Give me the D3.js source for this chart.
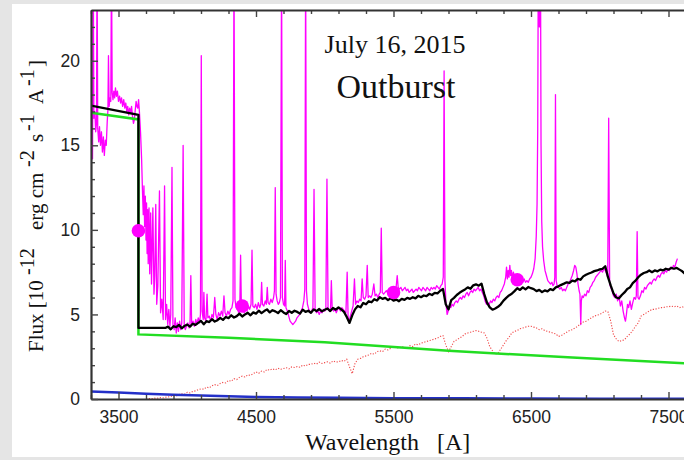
<!DOCTYPE html>
<html>
<head>
<meta charset="utf-8">
<script src="https://cdn.jsdelivr.net/npm/d3@7"></script>
<style>
  html, body { margin: 0; padding: 0; background: #e5e5e5; }
  svg { display: block; }
  .tick text { font-family: "Liberation Sans", Arial, sans-serif; font-size: 17.5px; fill: #222; }
</style>
</head>
<body>
<svg id="chart" width="684" height="460"></svg>
<script>
// ---- spectrum data (wavelength in A, flux in 1e-12 erg cm^-2 s^-1 A^-1) ----

// observed spectrum, [wavelength, flux]
const observed = [
  [3306, 17.0], [3311, 14.2], [3316, 26], [3321, 16.6], [3328, 17.0], [3334, 15.8], [3340, 16.3], [3344, 26],
  [3349, 16.0], [3356, 15.2], [3362, 16.1], [3369, 15.0], [3376, 15.8], [3383, 14.6], [3390, 15.5], [3397, 14.4],
  [3404, 15.3], [3411, 15.0], [3418, 16.4], [3423, 17.1], [3427, 20.3], [3432, 17.3], [3438, 17.8], [3444, 17.6],
  [3449, 26], [3454, 18.1], [3460, 17.7], [3466, 18.2], [3472, 17.8], [3478, 18.4], [3485, 17.9], [3492, 18.2],
  [3500, 17.6], [3508, 17.9], [3515, 17.5], [3522, 17.8], [3530, 17.3], [3538, 17.7], [3546, 17.2], [3553, 17.5],
  [3560, 17.0], [3567, 17.3], [3574, 16.8], [3581, 17.2], [3588, 16.9], [3595, 17.3], [3602, 16.7], [3609, 16.3],
  [3615, 16.5], [3622, 17.1], [3628, 17.6], [3634, 17.3], [3640, 17.2],
  [3646, 17.7], [3652, 17.0], [3660, 15.8], [3668, 14.2], [3674, 12.4], [3680, 10.9], [3685, 12.6], [3690, 10.2],
  [3695, 12.0], [3700, 9.4], [3704, 11.6], [3708, 8.6], [3712, 11.2], [3716, 8.0], [3722, 11.3], [3727, 7.4],
  [3734, 11.0], [3740, 6.8], [3750, 11.3], [3758, 6.2], [3764, 7.3], [3771, 11.5], [3778, 5.6], [3786, 6.7],
  [3798, 12.3], [3806, 5.1], [3815, 5.9], [3825, 4.7], [3835, 12.6], [3842, 4.7], [3850, 5.6], [3858, 4.4],
  [3866, 5.3], [3874, 4.3], [3880, 5.0], [3889, 13.7], [3896, 4.4], [3905, 4.1], [3912, 4.8], [3920, 3.9],
  [3928, 4.5], [3936, 4.0], [3944, 4.6], [3952, 4.1], [3960, 4.5], [3970, 15.0], [3978, 4.3], [3986, 4.1],
  [3994, 4.3], [4004, 4.5], [4014, 4.2], [4020, 4.4], [4026, 7.3], [4032, 4.4], [4042, 4.6], [4052, 4.3],
  [4062, 4.7], [4070, 4.4], [4080, 4.8], [4090, 4.5], [4096, 5.0], [4102, 20.3], [4108, 5.2], [4116, 4.7],
  [4121, 6.3], [4126, 4.8], [4136, 4.6], [4144, 6.2], [4150, 4.8], [4160, 4.9], [4170, 4.6], [4180, 5.0],
  [4190, 4.8], [4200, 6.0], [4208, 5.0], [4218, 4.7], [4228, 5.1], [4238, 4.9], [4248, 5.2], [4258, 4.9],
  [4267, 6.1], [4275, 5.1], [4285, 4.9], [4295, 5.2], [4305, 5.0], [4315, 5.3], [4325, 5.4], [4333, 5.8],
  [4340, 26], [4347, 5.9], [4355, 5.4], [4365, 5.3], [4375, 5.1], [4382, 5.3], [4388, 8.5], [4394, 5.2],
  [4404, 5.3], [4414, 5.1], [4424, 5.4], [4434, 5.2], [4444, 5.5], [4454, 5.3], [4464, 5.6], [4471, 8.8],
  [4477, 5.5], [4487, 5.4], [4497, 5.6], [4507, 5.3], [4517, 5.7], [4527, 5.4], [4535, 5.6], [4541, 6.9],
  [4547, 5.6], [4557, 5.5], [4567, 5.8], [4575, 5.6], [4582, 6.6], [4588, 5.7], [4598, 5.6], [4608, 5.9],
  [4618, 5.7], [4628, 6.0], [4634, 6.4], [4640, 12.5], [4646, 6.2], [4654, 5.8], [4662, 5.6], [4670, 5.7],
  [4678, 6.0], [4686, 26], [4692, 6.0], [4700, 5.6], [4708, 5.5], [4713, 8.2], [4718, 5.4], [4728, 5.2],
  [4738, 4.9], [4748, 4.6], [4758, 4.5], [4768, 4.4], [4778, 4.5], [4788, 4.6], [4798, 4.8], [4808, 4.9],
  [4818, 5.0], [4828, 5.2], [4838, 5.4], [4848, 5.8], [4855, 6.5], [4861, 26], [4867, 6.4], [4874, 5.6],
  [4884, 5.3], [4894, 5.1], [4904, 5.2], [4914, 5.4], [4922, 12.4], [4930, 5.3], [4940, 5.1], [4950, 5.2],
  [4960, 5.0], [4970, 5.2], [4980, 5.1], [4990, 5.3], [5000, 5.2], [5008, 5.3], [5016, 13.0], [5024, 5.4],
  [5034, 5.2], [5042, 5.3], [5048, 7.0], [5054, 5.4], [5064, 5.2], [5074, 5.3], [5084, 5.1], [5094, 5.3],
  [5104, 5.4], [5114, 5.2], [5124, 5.4], [5134, 5.3], [5144, 5.2], [5154, 5.1], [5163, 7.5], [5170, 4.8],
  [5178, 4.6], [5186, 4.9], [5196, 5.2], [5206, 5.5], [5216, 7.1], [5224, 5.6], [5234, 5.8], [5244, 5.7],
  [5254, 5.9], [5264, 5.8], [5272, 7.1], [5280, 6.0], [5290, 5.9], [5300, 6.1], [5309, 7.9], [5316, 6.0],
  [5326, 6.1], [5336, 6.0], [5346, 6.2], [5357, 6.8], [5366, 6.1], [5376, 6.2], [5386, 6.0], [5396, 6.2],
  [5404, 6.3], [5411, 10.1], [5418, 6.3], [5428, 6.2], [5438, 6.3], [5448, 6.4], [5458, 6.3], [5468, 6.5],
  [5478, 6.4], [5488, 6.4], [5498, 6.5], [5508, 6.4], [5518, 6.5], [5527, 7.3], [5534, 6.6], [5544, 6.5],
  [5554, 6.6], [5564, 6.4], [5574, 6.5], [5584, 6.6], [5594, 6.4], [5604, 6.5], [5614, 6.3], [5624, 6.4],
  [5634, 6.5], [5644, 6.3], [5654, 6.4], [5664, 6.5], [5674, 6.4], [5684, 6.6], [5694, 6.5], [5704, 6.4],
  [5714, 6.6], [5724, 6.5], [5734, 6.4], [5744, 6.6], [5754, 6.5], [5764, 6.4], [5774, 6.6], [5784, 6.5],
  [5794, 6.6], [5804, 6.5], [5814, 6.7], [5824, 6.6], [5834, 6.5], [5844, 6.7], [5854, 6.8], [5862, 7.2],
  [5868, 19.4], [5874, 7.0], [5882, 5.6], [5890, 5.0], [5898, 5.2], [5906, 5.5], [5916, 5.4], [5926, 5.6],
  [5936, 5.5], [5946, 5.7], [5956, 5.8], [5966, 5.7], [5976, 5.9], [5986, 6.0], [5996, 5.9], [6006, 6.1],
  [6016, 6.0], [6026, 6.2], [6036, 6.3], [6046, 6.1], [6056, 6.3], [6066, 6.4], [6076, 6.3], [6086, 6.5],
  [6096, 6.4], [6106, 6.5], [6116, 6.6], [6126, 6.4], [6136, 6.5], [6146, 6.3], [6156, 6.1], [6166, 5.8],
  [6176, 5.6], [6186, 5.7], [6196, 5.6], [6206, 5.8], [6216, 5.7], [6226, 5.9], [6236, 5.8], [6246, 6.0],
  [6256, 6.1], [6266, 6.0], [6276, 6.3], [6286, 6.4], [6296, 6.6], [6306, 6.8], [6316, 7.2], [6322, 7.8],
  [6328, 7.1], [6334, 7.6], [6340, 7.2], [6346, 7.9], [6352, 7.3], [6358, 7.6], [6364, 7.1], [6372, 7.5],
  [6380, 7.2], [6390, 7.3], [6400, 7.1], [6410, 7.3], [6420, 7.0], [6430, 7.2], [6440, 6.9], [6450, 7.1],
  [6460, 6.9], [6470, 7.0], [6480, 6.9], [6490, 7.1], [6500, 7.2], [6510, 7.4], [6520, 7.7], [6530, 8.3],
  [6538, 9.6], [6544, 11.5], [6549, 16], [6553, 26], [6557, 26], [6561, 22], [6565, 26], [6569, 26],
  [6573, 15], [6578, 10.5], [6584, 9.0], [6592, 8.2], [6602, 7.6], [6612, 7.3], [6622, 7.0], [6632, 6.9],
  [6642, 6.8], [6652, 6.9], [6660, 6.7], [6668, 6.8], [6673, 7.2], [6678, 18.0], [6683, 7.0], [6690, 6.7],
  [6700, 6.6], [6710, 6.5], [6720, 6.6], [6730, 6.4], [6740, 6.5], [6750, 6.4], [6760, 6.6], [6770, 6.8],
  [6780, 6.9], [6790, 7.1], [6800, 7.3], [6810, 7.6], [6818, 7.9], [6826, 7.8], [6834, 7.4], [6842, 6.8],
  [6850, 6.4], [6856, 6.2], [6862, 4.4], [6866, 5.8], [6872, 6.1], [6880, 6.0], [6890, 6.2], [6900, 6.1],
  [6910, 6.4], [6920, 6.3], [6930, 6.6], [6940, 6.7], [6950, 6.9], [6960, 7.0], [6970, 7.2], [6980, 7.3],
  [6990, 7.4], [7000, 7.5], [7010, 7.6], [7020, 7.5], [7030, 7.7], [7040, 7.6], [7050, 7.4], [7058, 7.2],
  [7065, 16.6], [7072, 6.8], [7080, 6.6], [7090, 6.4], [7100, 6.1], [7110, 6.0], [7120, 6.2], [7130, 5.8],
  [7140, 6.1], [7150, 5.5], [7160, 5.8], [7170, 5.2], [7180, 4.8], [7187, 4.6], [7194, 5.0], [7202, 5.6],
  [7210, 5.4], [7220, 5.8], [7230, 5.3], [7240, 5.7], [7250, 6.0], [7260, 5.9], [7266, 6.1], [7272, 9.9],
  [7278, 6.0], [7286, 5.9], [7296, 6.1], [7306, 6.4], [7316, 6.3], [7326, 6.6], [7336, 6.5], [7346, 6.7],
  [7356, 6.8], [7366, 6.9], [7376, 6.8], [7386, 7.0], [7396, 7.1], [7406, 7.0], [7416, 7.2], [7426, 7.3],
  [7436, 7.2], [7446, 7.4], [7456, 7.5], [7466, 7.4], [7476, 7.6], [7486, 7.5], [7496, 7.7], [7506, 7.6],
  [7516, 7.8], [7526, 7.7], [7536, 7.9], [7546, 7.8], [7556, 8.1], [7565, 8.3]
];

// photometric points
const photometry = [[3645, 9.95], [4400, 5.5], [5500, 6.3], [6400, 7.05]];

// total model: Balmer-jump part, then the sampled part (20 A grid from 3840 A)
const modelSumEdge = [[3300, 17.35], [3645, 16.8], [3645, 4.2]];
const modelSumStart = 3840;
const modelSumStep = 20;
const modelSum = [
  4.2, 4.28, 4.12, 4.3, 4.25, 4.38, 4.18, 4.32, 4.4, 4.28,
  4.45, 4.38, 4.5, 4.62, 4.42, 4.6, 4.55, 4.72, 4.58, 4.66,
  4.8, 4.68, 4.85, 4.78, 4.95, 4.82, 4.9, 5.05, 4.88, 5.0,
  5.1, 4.95, 5.12, 5.05, 5.22, 5.08, 5.2, 5.3, 5.12, 5.25,
  5.18, 5.08, 5.25, 5.12, 5.02, 5.2, 5.1, 5.22, 5.15, 5.05,
  5.28, 5.15, 5.22, 5.1, 5.3, 5.2, 5.32, 5.18, 5.28, 5.35,
  5.2, 5.38, 5.28, 5.42, 5.3, 5.15, 4.85, 4.5, 4.95, 5.3,
  5.5, 5.42, 5.68, 5.6, 5.78, 5.72, 5.9, 5.82, 6.02, 5.92,
  5.98, 5.85, 5.95, 5.82, 5.88, 5.78, 5.92, 5.86, 5.98, 5.92,
  6.02, 5.95, 6.1, 6.02, 6.12, 6.08, 6.22, 6.15, 6.28, 6.25,
  6.4, 6.5, 5.6, 5.3, 5.85, 5.98, 6.15, 6.28, 6.38, 6.48,
  6.6, 6.52, 6.72, 6.78, 6.7, 6.82, 6.2, 5.7, 5.42, 5.28,
  5.35, 5.45, 5.6, 5.82, 5.98, 6.12, 6.22, 6.38, 6.55, 6.45,
  6.6, 6.48, 6.62, 6.55, 6.5, 6.38, 6.45, 6.32, 6.42, 6.36,
  6.5, 6.44, 6.6, 6.66, 6.75, 6.82, 6.9, 6.86, 7.0, 6.95,
  7.1, 7.05, 7.25, 7.35, 7.42, 7.48, 7.56, 7.6, 7.66, 7.7,
  7.85, 7.2, 6.7, 6.25, 6.0, 5.95, 6.15, 6.3, 6.5, 6.6,
  6.85, 7.0, 7.2, 7.35, 7.45, 7.5, 7.6, 7.5, 7.6, 7.55,
  7.65, 7.6, 7.7, 7.65, 7.75, 7.7, 7.75, 7.65, 7.55, 7.4,
  7.35, 7.3, 7.25, 7.2
];

// secondary star template (20 A grid from 3700 A)
const starStart = 3700;
const starStep = 20;
const starFlux = [
  0.02, 0.03, 0.01, 0.05, 0.04, 0.08, 0.06, 0.1, 0.12, 0.15,
  0.2, 0.18, 0.26, 0.3, 0.28, 0.4, 0.36, 0.45, 0.48, 0.55,
  0.6, 0.58, 0.7, 0.66, 0.78, 0.85, 0.8, 0.92, 0.98, 0.95,
  1.1, 1.05, 1.2, 1.15, 1.28, 1.35, 1.3, 1.42, 1.4, 1.5,
  1.6, 1.52, 1.65, 1.6, 1.75, 1.7, 1.78, 1.72, 1.82, 1.76,
  1.8, 1.85, 1.78, 1.9, 1.86, 1.92, 1.88, 2.0, 1.95, 2.05,
  2.05, 2.12, 2.06, 2.18, 2.1, 2.15, 2.2, 2.12, 2.25, 2.18,
  2.2, 2.28, 2.22, 2.35, 1.9, 1.5, 2.1, 2.35, 2.4, 2.5,
  2.55, 2.6, 2.7, 2.65, 2.8, 2.85, 2.8, 2.95, 2.9, 3.0,
  3.1, 3.05, 3.0, 3.1, 3.05, 3.0, 3.15, 3.1, 3.25, 3.2,
  3.3, 3.35, 3.4, 3.45, 3.5, 3.55, 3.6, 3.7, 3.75, 3.2,
  2.8, 3.1, 3.4, 3.5, 3.6, 3.7, 3.85, 3.9, 3.95, 4.0,
  4.05, 4.0, 3.95, 3.9, 3.6, 3.1, 2.85, 2.65, 2.7, 2.95,
  3.2, 3.45, 3.65, 3.9, 4.0, 4.05, 4.15, 4.2, 4.25, 4.3,
  4.3, 4.25, 4.2, 4.1, 4.15, 4.05, 4.0, 3.95, 3.9, 3.85,
  3.7, 3.75, 3.85, 3.95, 4.05, 4.1, 4.2, 4.3, 4.45, 4.55,
  4.6, 4.7, 4.8, 4.9, 4.95, 5.0, 5.1, 5.2, 5.15, 4.6,
  3.8, 3.55, 3.4, 3.45, 3.5, 3.7, 3.85, 4.05, 4.3, 4.5,
  4.9, 5.0, 5.1, 5.2, 5.3, 5.3, 5.35, 5.4, 5.4, 5.45,
  5.45, 5.5, 5.45, 5.5, 5.4, 5.45, 5.4, 5.35, 5.3, 5.35, 5.3
];

// disc / hydrogen continuum component
const discComponent = [[3300, 16.92], [3645, 16.53], [3645, 3.82], [4300, 3.62], [5000, 3.35],
                       [5900, 2.85], [6800, 2.45], [7700, 2.07]];

// white dwarf component
const wdComponent = [[3300, 0.45], [3500, 0.38], [3700, 0.31], [3900, 0.25], [4100, 0.2], [4300, 0.16],
                     [4500, 0.12], [4800, 0.09], [5100, 0.07], [5500, 0.05], [6000, 0.04], [6500, 0.03],
                     [7000, 0.02], [7700, 0.02]];

// axis ticks
const xMajorTicks = [3500, 4500, 5500, 6500, 7500];
const xMinorTicks = [3300, 3700, 3900, 4100, 4300, 4700, 4900, 5100, 5300, 5700, 5900, 6100, 6300,
                     6700, 6900, 7100, 7300, 7700];
const yMajorTicks = [0, 5, 10, 15, 20];
const yMinorTicks = [1, 2, 3, 4, 6, 7, 8, 9, 11, 12, 13, 14, 16, 17, 18, 19, 21, 22];

// ---- drawing ----
const svg = d3.select("#chart");
const W = 684, H = 460;
const plot = { left: 91, right: 696, top: 10, bottom: 399 };

svg.append("rect").attr("width", W).attr("height", H).attr("fill", "#e5e5e5");
svg.append("rect").attr("x", 12).attr("y", 4).attr("width", W - 12).attr("height", 453).attr("fill", "#ffffff");

const x = d3.scaleLinear().domain([3300, 7700]).range([plot.left, plot.right]);
const y = d3.scaleLinear().domain([0, 23]).range([plot.bottom, plot.top]);

svg.append("clipPath").attr("id", "plotClip")
  .append("rect").attr("x", plot.left).attr("y", plot.top)
  .attr("width", plot.right - plot.left).attr("height", plot.bottom - plot.top);

const line = d3.line().x(d => x(d[0])).y(d => y(d[1]));
const g = svg.append("g").attr("clip-path", "url(#plotClip)");

const modelSumPts = modelSumEdge.concat(modelSum.map((f, i) => [modelSumStart + i * modelSumStep, f]));
const starPts = starFlux.map((f, i) => [starStart + i * starStep, f]);

g.append("path").datum(observed).attr("d", line)
  .attr("fill", "none").attr("stroke", "#ff00ff").attr("stroke-width", 1.3).attr("stroke-linejoin", "round");

g.append("path").datum(starPts).attr("d", line)
  .attr("fill", "none").attr("stroke", "#f04848").attr("stroke-width", 1.1)
  .attr("stroke-dasharray", "1.2 1.6");

g.append("path").datum(wdComponent).attr("d", line)
  .attr("fill", "none").attr("stroke", "#2430c8").attr("stroke-width", 2.5);

g.append("path").datum(discComponent).attr("d", line)
  .attr("fill", "none").attr("stroke", "#22dd22").attr("stroke-width", 2.5);

g.append("path").datum(modelSumPts).attr("d", line)
  .attr("fill", "none").attr("stroke", "#000000").attr("stroke-width", 2.3).attr("stroke-linejoin", "round");

g.selectAll("circle.phot").data(photometry).enter().append("circle")
  .attr("class", "phot")
  .attr("cx", d => x(d[0])).attr("cy", d => y(d[1])).attr("r", 6.8)
  .attr("fill", "#ff00ff");

// axes with inward ticks
function styleAxis(sel, width) {
  sel.selectAll(".domain").attr("stroke", "#333").attr("stroke-width", width);
  sel.selectAll(".tick line").attr("stroke", "#444").attr("stroke-width", 1.4);
}

const axes = svg.append("g");
const bMinor = axes.append("g").attr("transform", `translate(0,${plot.bottom})`)
  .call(d3.axisBottom(x).tickValues(xMinorTicks).tickSize(-4).tickFormat(""));
const bMajor = axes.append("g").attr("transform", `translate(0,${plot.bottom})`)
  .call(d3.axisBottom(x).tickValues(xMajorTicks).tickSize(-7).tickSizeOuter(0).tickPadding(12).tickFormat(d3.format("d")));
const tMinor = axes.append("g").attr("transform", `translate(0,${plot.top})`)
  .call(d3.axisTop(x).tickValues(xMinorTicks).tickSize(-4).tickFormat(""));
const tMajor = axes.append("g").attr("transform", `translate(0,${plot.top})`)
  .call(d3.axisTop(x).tickValues(xMajorTicks).tickSize(-7).tickSizeOuter(0).tickFormat(""));
const lMinor = axes.append("g").attr("transform", `translate(${plot.left},0)`)
  .call(d3.axisLeft(y).tickValues(yMinorTicks).tickSize(-4).tickFormat(""));
const lMajor = axes.append("g").attr("transform", `translate(${plot.left},0)`)
  .call(d3.axisLeft(y).tickValues(yMajorTicks).tickSize(-7).tickSizeOuter(0).tickPadding(11).tickFormat(d3.format("d")));

[bMinor, tMinor, lMinor].forEach(a => a.select(".domain").remove());
[bMinor, tMinor, lMinor].forEach(a => styleAxis(a, 2));
[bMajor, tMajor, lMajor].forEach(a => styleAxis(a, 2.2));

// titles
const serif = '"Liberation Serif", "Times New Roman", serif';
svg.append("text").attr("x", 395).attr("y", 53).attr("text-anchor", "middle")
  .attr("font-family", serif).attr("font-size", 26).attr("fill", "#111").text("July 16, 2015");
svg.append("text").attr("x", 396).attr("y", 98).attr("text-anchor", "middle")
  .attr("font-family", serif).attr("font-size", 34).attr("fill", "#111").text("Outburst");

// x label
const xl = svg.append("text").attr("y", 450).attr("font-family", serif).attr("font-size", 24).attr("fill", "#111");
xl.append("tspan").attr("x", 305).text("Wavelength");
xl.append("tspan").attr("x", 437).text("[A]");

// y label (rotated), segments with superscripts
const yl = svg.append("text").attr("transform", "translate(43,0) rotate(-90)")
  .attr("font-family", serif).attr("font-size", 21).attr("fill", "#111");
const ySegs = [
  ["Flux [10", -352, 0, 21],
  ["-12", -275, -9, 20],
  ["erg cm", -230, 0, 21],
  ["-2", -167, -9, 20],
  ["s", -142, 0, 21],
  ["-1", -131, -9, 20],
  ["A", -104, 0, 21],
  ["-1", -86, -9, 20],
  ["]", -67, 0, 21]
];
ySegs.forEach(s => {
  yl.append("tspan").attr("x", s[1]).attr("y", s[2]).attr("font-size", s[3]).text(s[0]);
});
</script>
</body>
</html>
